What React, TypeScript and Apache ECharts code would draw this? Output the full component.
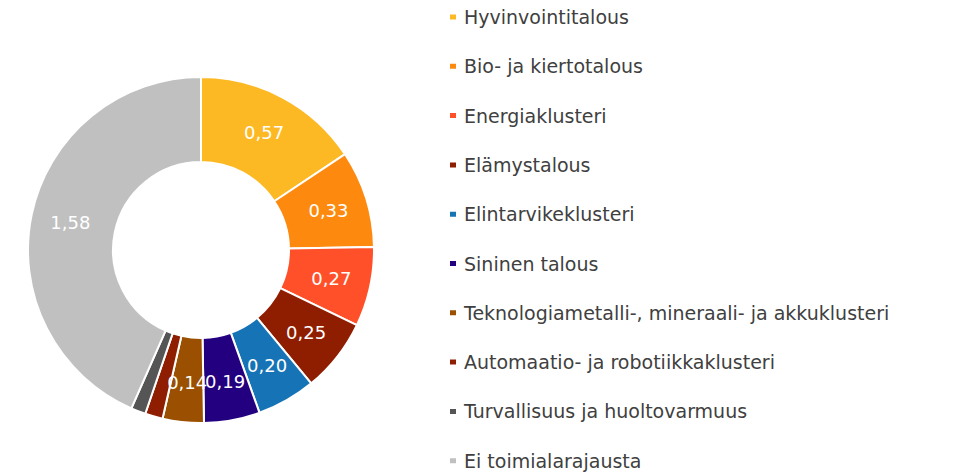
import React, { useEffect, useRef } from "react";
import * as echarts from "echarts";

const categories = [
  "Hyvinvointitalous",
  "Bio- ja kiertotalous",
  "Energiaklusteri",
  "Elämystalous",
  "Elintarvikeklusteri",
  "Sininen talous",
  "Teknologiametalli-, mineraali- ja akkuklusteri",
  "Automaatio- ja robotiikkaklusteri",
  "Turvallisuus ja huoltovarmuus",
  "Ei toimialarajausta",
];
const values = [0.57, 0.33, 0.27, 0.25, 0.2, 0.19, 0.14, 0.06, 0.05, 1.58];
const showLabel = [true, true, true, true, true, true, true, false, false, true];
const colors = [
  "#FDB924",
  "#FD8A0E",
  "#FF5029",
  "#8F1D00",
  "#1673B6",
  "#230080",
  "#9A5000",
  "#8F1D00",
  "#555555",
  "#C0C0C0",
];

const FONT = "'DejaVu Sans', sans-serif";

export default function App() {
  const ref = useRef<HTMLDivElement>(null);
  useEffect(() => {
    document.body.style.margin = "0";
    if (!ref.current) return;
    const chart = echarts.init(ref.current, undefined, { renderer: "svg" });
    chart.setOption({
      animation: false,
      color: colors,
      legend: {
        orient: "vertical",
        left: 448,
        top: 7,
        padding: 0,
        icon: "rect",
        itemWidth: 8,
        itemHeight: 7,
        itemGap: 29.3,
        textStyle: {
          fontFamily: FONT,
          fontSize: 19,
          lineHeight: 20,
          color: "#404040",
          padding: [0, 0, 0, 2],
        },
        data: categories,
      },
      series: [
        {
          type: "pie",
          center: [201, 250],
          radius: [88, 173],
          startAngle: 90,
          clockwise: true,
          avoidLabelOverlap: false,
          itemStyle: { borderColor: "#ffffff", borderWidth: 2 },
          label: {
            show: true,
            position: "inside",
            color: "#ffffff",
            fontFamily: FONT,
            fontSize: 18,
            overflow: "none",
            formatter: (p: any) => p.value.toFixed(2).replace(".", ","),
          },
          labelLayout: { hideOverlap: false },
          labelLine: { show: false },
          emphasis: { disabled: true },
          data: categories.map((name, i) => ({
            name,
            value: values[i],
            label: { show: showLabel[i] },
          })),
        },
      ],
    });
    return () => chart.dispose();
  }, []);
  return <div ref={ref} style={{ width: 953, height: 473 }} />;
}
